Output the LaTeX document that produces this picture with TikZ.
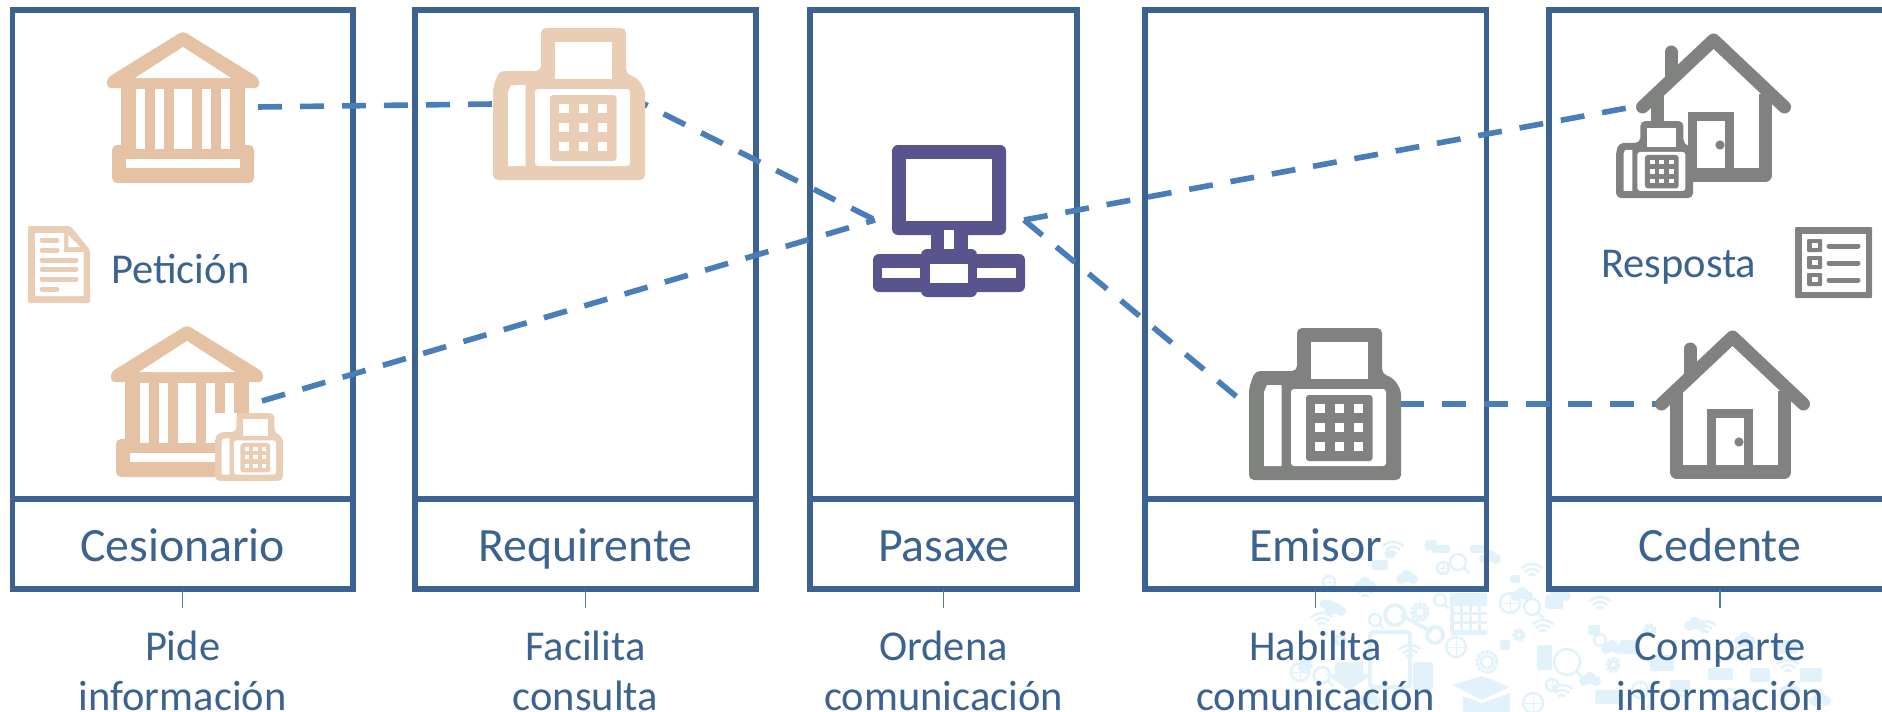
\documentclass[tikz,border=0pt]{standalone}
\usepackage{fontspec}
\setmainfont{Carlito}
\definecolor{panelblue}{HTML}{3B6291}
\definecolor{dashblue}{HTML}{4A7EBB}
\definecolor{bankpeach}{HTML}{E5C2A3}
\definecolor{faxpeach}{HTML}{EACDB5}
\definecolor{icongrey}{HTML}{7F827E}
\definecolor{netpurple}{HTML}{57548E}
\definecolor{wmblue}{HTML}{E2F2FB}
\tikzset{panel/.style = {draw = panelblue, line width = 5.6pt, inner sep = 0, outer sep = 0, anchor = north west}}
\tikzset{titlebox/.style = {panel, text = panelblue, font = \fontsize{47.8}{50}\selectfont,
                            text height = 35.4pt, text depth = 0pt}}
\tikzset{lab/.style = {text = panelblue, font = \fontsize{42.5}{50}\selectfont, align = center, inner sep = 0}}
\tikzset{side/.style = {text = panelblue, font = \fontsize{42.5}{48}\selectfont, inner sep = 0, anchor = base west}}
\tikzset{link/.style = {draw = dashblue, line width = 5.6pt, dash pattern = on 24pt off 18pt}}
\tikzset{wm/.style = {draw = wmblue, line width = 2.5pt}}
\tikzset{bank/.pic = {
    \fill [pic actions, rounded corners = 4] (0, 0) -- (76, 47) -- (76, 57) -- (-76, 57) -- (-76, 47) -- cycle;
    \fill [pic actions] (-62, 50) rectangle (62, 120);
    \fill [pic actions, rounded corners = 5] (-71, 114) rectangle (71, 152);
    \fill [white] (0, 16) -- (48, 47) -- (-48, 47) -- cycle;
    \foreach \a/\b in {-47/-38, -28/-19, -9/9, 19/28, 38/47} {
      \fill [white] (\a, 57.5) rectangle (\b, 118);
    }
    \fill [white] (-57, 128) rectangle (57, 137);
}}
\tikzset{fax/.pic = {
    \fill [pic actions, rounded corners = 5] (0, 152) -- (0, 60) -- (6, 43) -- (48, 43) -- (48, 0) -- (133, 0) -- (133, 46)
      .. controls (146, 50) and (152, 60) .. (152, 72) -- (152, 152) -- cycle;
    \fill [white] (62, 14) rectangle (119, 51);
    \fill [white] (15, 138) -- (15, 64) -- (18, 57) -- (32.5, 57) -- (32.5, 138) -- cycle;
    \fill [white, rounded corners = 3] (42, 138) -- (42, 61) -- (137, 61) -- (137, 138) -- cycle;
    \fill [pic actions, rounded corners = 3] (57, 67) rectangle (123.5, 133);
    \foreach \a in {66.4, 85.6, 104.8} {
      \foreach \b in {76, 95, 114} {
        \fill [white] (\a, \b) rectangle ++(9.5, 9);
      }
    }
}}
\tikzset{house/.pic = {
    \draw [pic actions, line width = 13.5pt, line join = round] (-56, 62) -- (-56, 143) -- (52, 143) -- (52, 62);
    \draw [pic actions, line width = 13pt, line cap = round] (-42.5, 20) -- (-42.5, 46);
    \draw [pic actions, line width = 13pt, line cap = round, line join = round] (-71, 75) -- (0, 8) -- (71, 75);
    \draw [pic actions, line width = 9pt] (-21, 136) -- (-21, 84.5) -- (16, 84.5) -- (16, 136);
    \draw [pic actions, line width = 4.5pt] (6.5, 113) circle (2.2);
}}
\begin{document}
\begin{tikzpicture}[x=1pt, y=-1pt]
    \useasboundingbox (0, 0) rectangle (1882, 712);

    \foreach \x/\y in {1393/557, 1532/579, 1543/635, 1705/636, 1788/675, 1322/628, 1600/612, 1745/660, 1365/600, 1410/660, 1562/700, 1680/700} {
      \foreach \r in {5, 10, 15} {
        \draw [wm] (\x, \y) ++(225:\r) arc (225:315:\r);
      }
    }
    \foreach \x/\y/\r in {1510/603/10, 1456/647/10, 1329/582/6, 1443/568/6, 1533/703/10, 1552/685/6, 1300/672/9, 1640/690/8} {
      \draw [wm] (\x, \y) circle (\r);
      \draw [wm, line width = 1pt] (\x - \r, \y) -- (\x + \r, \y) (\x, \y - \r) -- (\x, \y + \r);
    }
    \foreach \x/\y/\r in {1458/562/8, 1532/607/8, 1567/662/13, 1322/675/8, 1375/620/6, 1440/600/6, 1600/640/6, 1730/695/6} {
      \draw [wm] (\x, \y) circle (\r);
      \draw [wm] (\x, \y) ++(45:\r) -- ++(45:\r);
    }
    \foreach \x/\y/\r in {1487/662/10, 1420/612/8, 1519/635/5, 1613/665/6, 1305/665/6, 1340/640/5, 1650/630/5} {
      \draw [wm, line width = 3.5pt, densely dotted] (\x, \y) circle (\r);
      \draw [wm] (\x, \y) circle (\r * 0.6);
    }
    \foreach \x/\y in {1407/578, 1335/610, 1490/558, 1612/648, 1745/640, 1790/690, 1365/585, 1560/595, 1522/595, 1590/680, 1695/625, 1370/700, 1820/700} {
      \fill [wmblue] (\x - 6, \y + 1) circle (5) (\x, \y - 2) circle (6) (\x + 6, \y + 1) circle (5);
    }
    \foreach \x/\y/\w/\h in {1450/593/37/42, 1708/668/25/12, 1413/662/20/28, 1537/645/15/25, 1372/560/16/10,
                             1620/640/18/14, 1650/655/24/16, 1775/640/22/14, 1545/595/18/14, 1500/640/10/10,
                             1425/540/12/10, 1470/545/14/8, 1800/668/22/14, 1750/668/20/14, 1595/690/25/14,
                             1320/600/12/8, 1385/550/10/8, 1432/545/18/8, 1510/575/10/8, 1588/625/12/10, 1670/680/20/12} {
      \fill [wmblue, rounded corners = 1.5] (\x, \y) rectangle ++(\w, \h);
    }
    \draw [wm, line width = 4pt, rounded corners = 3] (1370, 632) rectangle (1410, 687);
    \draw [wm, line width = 4pt] (1401, 615) -- (1432, 632);
    \draw [wm, line width = 4pt] (1395, 615) circle (10) (1435, 635) circle (8);
    \fill [wmblue] (1335, 662) rectangle (1363, 674) (1325, 674) -- (1373, 674) -- (1349, 690) -- cycle;
    \fill [wmblue] (1452, 685) -- (1482, 676) -- (1510, 687) -- (1482, 700) -- cycle;
    \fill [wmblue] (1463, 696) -- (1482, 703) -- (1510, 693) -- (1510, 712) -- (1463, 712) -- cycle;
    \foreach \x in {1454, 1463, 1472, 1481} {
      \foreach \y in {606, 615, 624} {
        \fill [white] (\x, \y) rectangle ++(6, 6);
      }
    }

    \foreach \nm/\xa/\xb/\name/\la/\lb in {ces/12.5/352.7/Cesionario/Pide/información,
                                           req/415/756/Requirente/Facilita/consulta,
                                           pas/810/1077/Pasaxe/Ordena/comunicación,
                                           emi/1145/1486.5/Emisor/Habilita/comunicación,
                                           ced/1549/1891/Cedente/Comparte/información} {
      \pgfmathsetmacro\xm{(\xa + \xb) / 2}
      \node [panel, minimum width = \xb pt - \xa pt, minimum height = 489pt] (\nm Top) at (\xa, 10) {};
      \node [titlebox, minimum width = \xb pt - \xa pt, minimum height = 90pt] (\nm Box) at (\xa, 499) {\name};
      \coordinate (\nm Tick) at (\xm, 608);
      \draw [dashblue, line width = 1.4pt] (\nm Box.south) -- (\nm Tick);
      \node [lab, anchor = north] (\nm Lab) at (\xm, 631) {\vphantom{d}\la\\\lb};
    }

    \coordinate (bankAe) at (258, 107);
    \coordinate (faxAw) at (493, 104);
    \coordinate (faxAe) at (644, 104);
    \coordinate (netw) at (875, 220);
    \coordinate (nete) at (1024, 220);
    \coordinate (bankBe) at (262, 401);
    \coordinate (houseAw) at (1627, 108);
    \coordinate (faxBw) at (1237, 397);
    \coordinate (faxBe) at (1400, 404);
    \coordinate (houseBw) at (1656, 404);
    \draw [link] (bankAe) -- (faxAw);
    \draw [link, dash phase = 20pt] (faxAe) -- (netw);
    \draw [link] (bankBe) -- (netw);
    \draw [link] (nete) -- (houseAw);
    \draw [link] (nete) -- (faxBw);
    \draw [link] (faxBe) -- (houseBw);

    \pic [fill = bankpeach] at (183, 31) {bank};
    \pic [fill = bankpeach] at (187, 325) {bank};
    \fill [white] (215, 413) rectangle (237, 440);
    \pic [fill = faxpeach, scale = 0.447] at (215, 413) {fax};
    \pic [fill = faxpeach] at (493, 28) {fax};
    \pic [fill = icongrey] at (1249, 328) {fax};
    \pic [draw = icongrey] at (1713.5, 32) {house};
    \pic [draw = icongrey] at (1732.5, 329) {house};
    \pic [fill = icongrey, scale = 0.507] at (1616, 121) {fax};

    \fill [faxpeach, rounded corners = 2] (28, 226) -- (70.5, 226) -- (90, 250) -- (90, 303) -- (28, 303) -- cycle;
    \fill [white] (35, 233) -- (64, 233) -- (64, 252) -- (83.5, 252) -- (83.5, 296) -- (35, 296) -- cycle;
    \fill [white] (68.3, 235) -- (80, 247) -- (68.3, 247) -- cycle;
    \foreach \y/\e in {240/59, 250/59, 260/78, 269/78, 279/78, 289/59} {
      \draw [faxpeach, line width = 5pt, line cap = round] (42, \y) -- (\e - 2, \y);
    }
    \node [side] (peticion) at (111, 283) {Petición};

    \node [side] (resposta) at (1601, 277) {Resposta};
    \fill [icongrey, rounded corners = 1] (1795, 227) rectangle (1872, 298);
    \fill [white] (1802, 234) rectangle (1865.6, 292);
    \foreach \y in {239, 256, 273} {
      \fill [icongrey, rounded corners = 1] (1807, \y) rectangle (1822, \y + 13);
      \fill [white] (1811.5, \y + 4) rectangle (1817.5, \y + 9);
      \draw [icongrey, line width = 5pt, line cap = round] (1829, \y + 7) -- (1858, \y + 7);
    }

    \begin{scope}[netpurple]
      \fill [rounded corners = 6] (892, 145) rectangle (1006, 235);
      \fill [white] (906, 159) rectangle (991.7, 220.7);
      \fill (931, 230) rectangle (967.7, 254);
      \fill [white] (944, 230) rectangle (954, 254);
      \fill [rounded corners = 6] (873, 254) rectangle (1025, 292);
      \fill [rounded corners = 6] (921, 249) rectangle (977, 297);
      \fill [white] (930, 263.7) rectangle (967.7, 282.7);
      \fill [white] (882, 268) rectangle (920, 278);
      \fill [white] (977, 268) rectangle (1015.7, 278);
    \end{scope}
\end{tikzpicture}
\end{document}
